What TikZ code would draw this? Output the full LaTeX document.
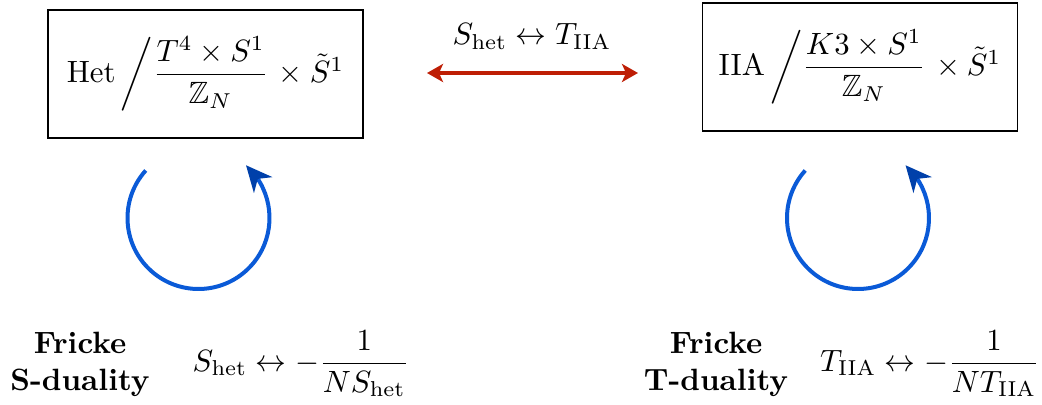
\documentclass[tikz,border=0pt]{standalone}
\usepackage{amsmath,amssymb}
\usetikzlibrary{arrows.meta,bending}
\definecolor{myred}{RGB}{190,30,5}
\definecolor{myblue}{RGB}{10,90,215}
\definecolor{mybluehead}{RGB}{0,64,170}
\begin{document}
\begin{tikzpicture}[x=0.5pt,y=-0.5pt,
  every node/.style={inner sep=0pt, scale=1.54, transform shape},
  spacebox/.style={draw, line width=0.8pt, minimum width=102.3pt, minimum height=41.6pt},
  redarrow/.style={draw=myred, line width=2pt,
    {Stealth[length=8pt,width=9pt,inset=2pt]}-{Stealth[length=8pt,width=9pt,inset=2pt]}},
  cyclearrow/.style={draw=myblue, line width=2pt,
    -{Stealth[length=13pt,width=12pt,inset=4pt,flex,fill=mybluehead,color=mybluehead]}},
  label/.style={align=center, font=\bfseries}
  ]
\useasboundingbox (0,0) rectangle (1042,405);

\node[spacebox] (het) at (205.5,74)
  {$\text{Het}\left/\dfrac{T^4\times S^1}{\mathbb{Z}_N}\right.\times\tilde{S}^1$};
\node[spacebox] (iia) at (860,67)
  {$\text{IIA}\left/\dfrac{K3\times S^1}{\mathbb{Z}_N}\right.\times\tilde{S}^1$};

\coordinate (ra) at (427,73);
\coordinate (rb) at (638,73);
\draw[redarrow] (ra) -- (rb);
\node[anchor=base] (rlab) at (532,45) {$S_{\text{het}}\leftrightarrow T_{\text{IIA}}$};

\coordinate (c1) at (198.5,218);
\coordinate (c2) at (858,218);
\draw[cyclearrow] ([shift={(222:71)}]c1) arc[start angle=222, end angle=-48, radius=71];
\draw[cyclearrow] ([shift={(222:71)}]c2) arc[start angle=222, end angle=-48, radius=71];

\node[label] (fs) at (80,364) {Fricke\\S-duality};
\node[label] (ft) at (716,364) {Fricke\\T-duality};

\node[anchor=base] (fsf) at (301,371)
  {$S_{\text{het}}\leftrightarrow -\dfrac{1}{N S_{\text{het}}}$};
\node[anchor=base] (ftf) at (930,371)
  {$T_{\text{IIA}}\leftrightarrow -\dfrac{1}{N T_{\text{IIA}}}$};
\end{tikzpicture}
\end{document}
